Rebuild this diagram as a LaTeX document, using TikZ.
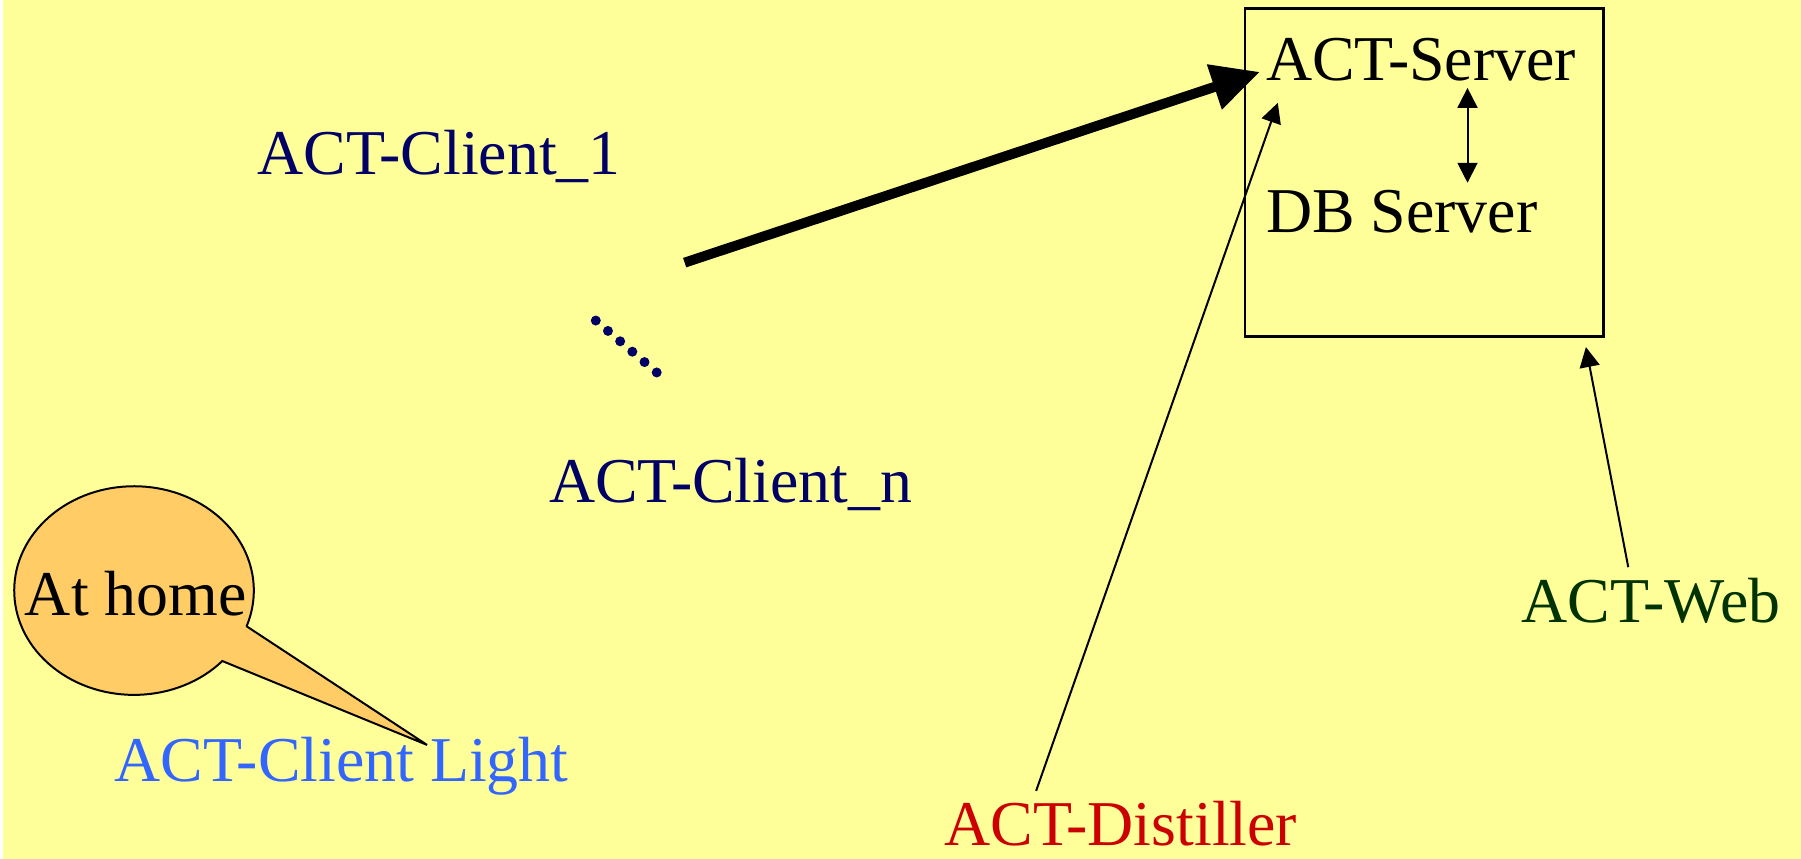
\documentclass[tikz,border=0pt]{standalone}
\usepackage{fontspec}
\setmainfont{Liberation Serif}
\usepackage{tikz}
\usetikzlibrary{arrows.meta}

\definecolor{slidebg}{HTML}{FFFF99}
\definecolor{clientnavy}{HTML}{000066}
\definecolor{lightblue}{HTML}{3366FF}
\definecolor{distred}{HTML}{CC0000}
\definecolor{webgreen}{HTML}{003300}
\definecolor{bubble}{HTML}{FFCC66}

\begin{document}
\begin{tikzpicture}[x=0.02cm, y=-0.02cm,
  lbl/.style={font=\fontsize{36.4}{44}\selectfont, inner sep=0, anchor=base west},
  thinarr/.style={line width=0.04cm, -{Triangle[length=0.4cm, width=0.4cm]}},
  fatarr/.style={line width=0.2cm, -{Triangle[length=0.96cm, width=0.9cm]}}]
\fill [slidebg] (0,0) rectangle (1801,860);
% server box
\node [draw, line width=1.5pt, inner sep=0, minimum width=7.18cm, minimum height=6.58cm, anchor=north west] (box) at (1243,7) {};
\node [lbl] (srv) at (1265,81) {ACT-Server};
\node [lbl] (db) at (1265,233) {DB Server};
% clients
\node [lbl, clientnavy] (c1) at (255,175) {ACT-Client\_1};
\node [lbl, clientnavy] (cn) at (547,503) {ACT-Client\_n};
\foreach \i in {0,...,5}
  \fill [clientnavy] (594+12.2*\i, 321+10.4*\i) circle [radius=0.1cm];
\node [lbl, lightblue] (light) at (112,783) {ACT-Client Light};
\node [lbl, distred] (dist) at (943,847) {ACT-Distiller};
\node [lbl, webgreen] (web) at (1521,623) {ACT-Web};
% callout
\filldraw [fill=bubble, line width=0.04cm, line join=miter] (244,627) -- (425,746) -- (220,662)
  arc [start angle=-42.5, end angle=-380, x radius=2.4cm, y radius=2.09cm] -- cycle;
\node [lbl] (home) at (22,616) {At home};
% arrows
\coordinate (clients) at (683,263);
\draw [fatarr] (clients) -- ([shift={(-6,-9)}]srv.base west);
\draw [thinarr] ([shift={(92,-55)}]dist.base west) -- ([shift={(12,22)}]srv.base west);
\draw [thinarr] ([shift={(107,-55)}]web.base west) -- ([shift={(-19,9)}]box.south east);
\draw [line width=0.04cm, {Triangle[length=0.4cm, width=0.4cm]}-{Triangle[length=0.4cm, width=0.4cm]}]
  ([shift={(202,7)}]srv.base west) -- ([shift={(202,-50)}]db.base west);
\end{tikzpicture}
\end{document}
